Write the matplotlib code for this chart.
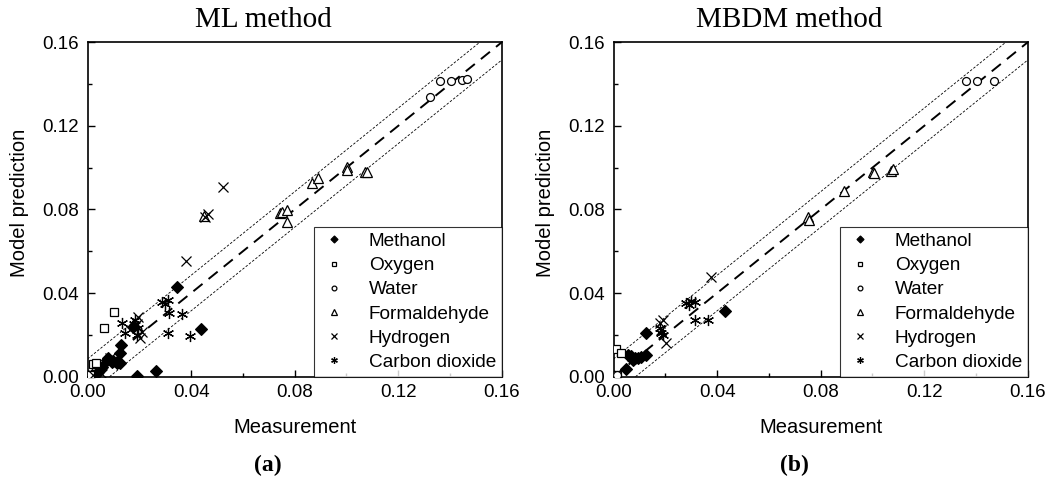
import matplotlib
matplotlib.use("Agg")
import matplotlib.pyplot as plt

SANS = "Liberation Sans"
SERIF = "Liberation Serif"

species = ["Methanol", "Oxygen", "Water", "Formaldehyde", "Hydrogen", "Carbon dioxide"]

# ML method: measurement (x) vs model prediction (y)
methanol_ml_x = [0.0344, 0.0437, 0.0265, 0.0192, 0.0177, 0.0128, 0.0126, 0.0126, 0.0113,
                 0.0093, 0.0074, 0.0055, 0.0042, 0.0016, 0.0080, 0.0100, 0.0118]
methanol_ml_y = [0.0431, 0.0227, 0.0029, 0.0003, 0.0239, 0.0150, 0.0115, 0.0064, 0.0064,
                 0.0072, 0.0080, 0.0048, 0.0024, 0.0008, 0.0090, 0.0075, 0.0070]
oxygen_ml_x = [0.0104, 0.0065, 0.0020, 0.0033, 0.0010]
oxygen_ml_y = [0.0311, 0.0231, 0.0059, 0.0067, 0.0010]
water_ml_x = [0.1323, 0.1362, 0.1403, 0.1445, 0.1465]
water_ml_y = [0.1340, 0.1415, 0.1415, 0.1420, 0.1424]
formaldehyde_ml_x = [0.0450, 0.0745, 0.0750, 0.0770, 0.0772, 0.0866, 0.0892, 0.1001, 0.1001, 0.1072, 0.1079]
formaldehyde_ml_y = [0.0770, 0.0785, 0.0790, 0.0798, 0.0742, 0.0925, 0.0949, 0.1005, 0.0989, 0.0981, 0.0981]
hydrogen_ml_x = [0.0525, 0.0380, 0.0455, 0.0465, 0.0196, 0.0209, 0.0203, 0.0190, 0.0087, 0.0100, 0.0022, 0.0055]
hydrogen_ml_y = [0.0909, 0.0555, 0.0765, 0.0778, 0.0287, 0.0215, 0.0184, 0.0250, 0.0088, 0.0080, 0.0008, 0.0013]
co2_ml_x = [0.0287, 0.0312, 0.0300, 0.0316, 0.0364, 0.0312, 0.0396, 0.0132, 0.0145, 0.0183, 0.0196, 0.0190, 0.0180]
co2_ml_y = [0.0359, 0.0367, 0.0350, 0.0303, 0.0300, 0.0208, 0.0195, 0.0258, 0.0208, 0.0271, 0.0232, 0.0200, 0.0250]

# MBDM method
methanol_mbdm_x = [0.0432, 0.0127, 0.0050, 0.0056, 0.0077, 0.0094, 0.0107, 0.0124, 0.0083, 0.0066]
methanol_mbdm_y = [0.0316, 0.0208, 0.0038, 0.0104, 0.0082, 0.0088, 0.0096, 0.0104, 0.0090, 0.0097]
oxygen_mbdm_x = [0.0008, 0.0027, 0.0015]
oxygen_mbdm_y = [0.0131, 0.0112, 0.0010]
water_mbdm_x = [0.1362, 0.1403, 0.1471, 0.0012]
water_mbdm_y = [0.1415, 0.1415, 0.1415, 0.0008]
formaldehyde_mbdm_x = [0.0750, 0.0755, 0.0892, 0.1001, 0.1005, 0.1072, 0.1079]
formaldehyde_mbdm_y = [0.0766, 0.0750, 0.0889, 0.0980, 0.0973, 0.0986, 0.0992]
hydrogen_mbdm_x = [0.0377, 0.0203, 0.0190, 0.0184, 0.0180]
hydrogen_mbdm_y = [0.0479, 0.0160, 0.0271, 0.0223, 0.0255]
co2_mbdm_x = [0.0281, 0.0293, 0.0313, 0.0313, 0.0364, 0.0178, 0.0184, 0.0190, 0.0300]
co2_mbdm_y = [0.0351, 0.0343, 0.0359, 0.0271, 0.0271, 0.0231, 0.0207, 0.0199, 0.0360]

# parity line and +/- band
axis_max = 0.16
band = 0.0085
ticks = [0.00, 0.04, 0.08, 0.12, 0.16]

styles = [
    dict(marker="D", ms=6.0, mfc="black", mec="black", mew=0.8),
    dict(marker="s", ms=5.5, mfc="white", mec="black", mew=0.9),
    dict(marker="o", ms=5.7, mfc="white", mec="black", mew=0.9),
    dict(marker="^", ms=7.0, mfc="white", mec="black", mew=0.9),
    dict(marker="x", ms=7.5, mfc="none", mec="black", mew=0.9),
    dict(marker=(6, 2, 0), ms=8.0, mfc="none", mec="black", mew=0.9),
]


def panel(ax, series):
    ax.plot([0, axis_max], [0, axis_max], color="black", lw=1.4, ls=(0, (6, 4)), zorder=1)
    ax.plot([0, axis_max - band], [band, axis_max], color="black", lw=0.6, ls=(0, (3, 2)), zorder=1)
    ax.plot([band, axis_max], [0, axis_max - band], color="black", lw=0.6, ls=(0, (3, 2)), zorder=1)

    for name, (xs, ys), st in zip(species, series, styles):
        ax.plot(xs, ys, ls="none", label=name, zorder=3, **st)

    ax.set_xlim(0, axis_max)
    ax.set_ylim(0, axis_max)
    ax.set_xticks(ticks)
    ax.set_yticks(ticks)
    ax.set_xticks([0.02, 0.06, 0.10, 0.14], minor=True)
    ax.set_yticks([0.02, 0.06, 0.10, 0.14], minor=True)
    ax.set_xticklabels([f"{t:.2f}" for t in ticks], fontfamily=SANS, fontsize=13.5)
    ax.set_yticklabels([f"{t:.2f}" for t in ticks], fontfamily=SANS, fontsize=13.5)
    ax.tick_params(which="both", direction="in", top=False, right=False, width=1.0)
    ax.tick_params(which="major", length=5, pad=6)
    ax.tick_params(which="minor", length=3)
    ax.tick_params(axis="x", pad=5)
    for sp in ax.spines.values():
        sp.set_linewidth(1.2)

    ax.set_xlabel("Measurement", fontfamily=SANS, fontsize=14.5)
    ax.set_ylabel("Model prediction", fontfamily=SANS, fontsize=14.5)
    ax.xaxis.set_label_coords(0.5, -0.123)
    ax.yaxis.set_label_coords(-0.142, 0.52)

    leg = ax.legend(loc="lower right", borderaxespad=0, frameon=True, fancybox=False,
                    edgecolor="black", markerscale=0.6, handlelength=1.5, handletextpad=1.1,
                    labelspacing=0.36, borderpad=0.3, prop={"family": SANS, "size": 13.7})
    leg.get_frame().set_linewidth(0.8)


fig = plt.figure(figsize=(10.52, 4.84), dpi=100)
ax1 = fig.add_axes([0.0832, 0.2217, 0.3937, 0.6909])
ax2 = fig.add_axes([0.5832, 0.2217, 0.3937, 0.6909])

panel(ax1, [(methanol_ml_x, methanol_ml_y), (oxygen_ml_x, oxygen_ml_y), (water_ml_x, water_ml_y),
            (formaldehyde_ml_x, formaldehyde_ml_y), (hydrogen_ml_x, hydrogen_ml_y), (co2_ml_x, co2_ml_y)])
panel(ax2, [(methanol_mbdm_x, methanol_mbdm_y), (oxygen_mbdm_x, oxygen_mbdm_y), (water_mbdm_x, water_mbdm_y),
            (formaldehyde_mbdm_x, formaldehyde_mbdm_y), (hydrogen_mbdm_x, hydrogen_mbdm_y),
            (co2_mbdm_x, co2_mbdm_y)])

fig.text(0.25, 0.958, "ML method", ha="center", va="center", fontfamily=SERIF, fontsize=21)
fig.text(0.75, 0.958, "MBDM method", ha="center", va="center", fontfamily=SERIF, fontsize=21)
fig.text(0.255, 0.039, "(a)", ha="center", va="center", fontfamily=SERIF, fontsize=17, fontweight="bold")
fig.text(0.755, 0.039, "(b)", ha="center", va="center", fontfamily=SERIF, fontsize=17, fontweight="bold")

fig.savefig("out.png", dpi=100)
